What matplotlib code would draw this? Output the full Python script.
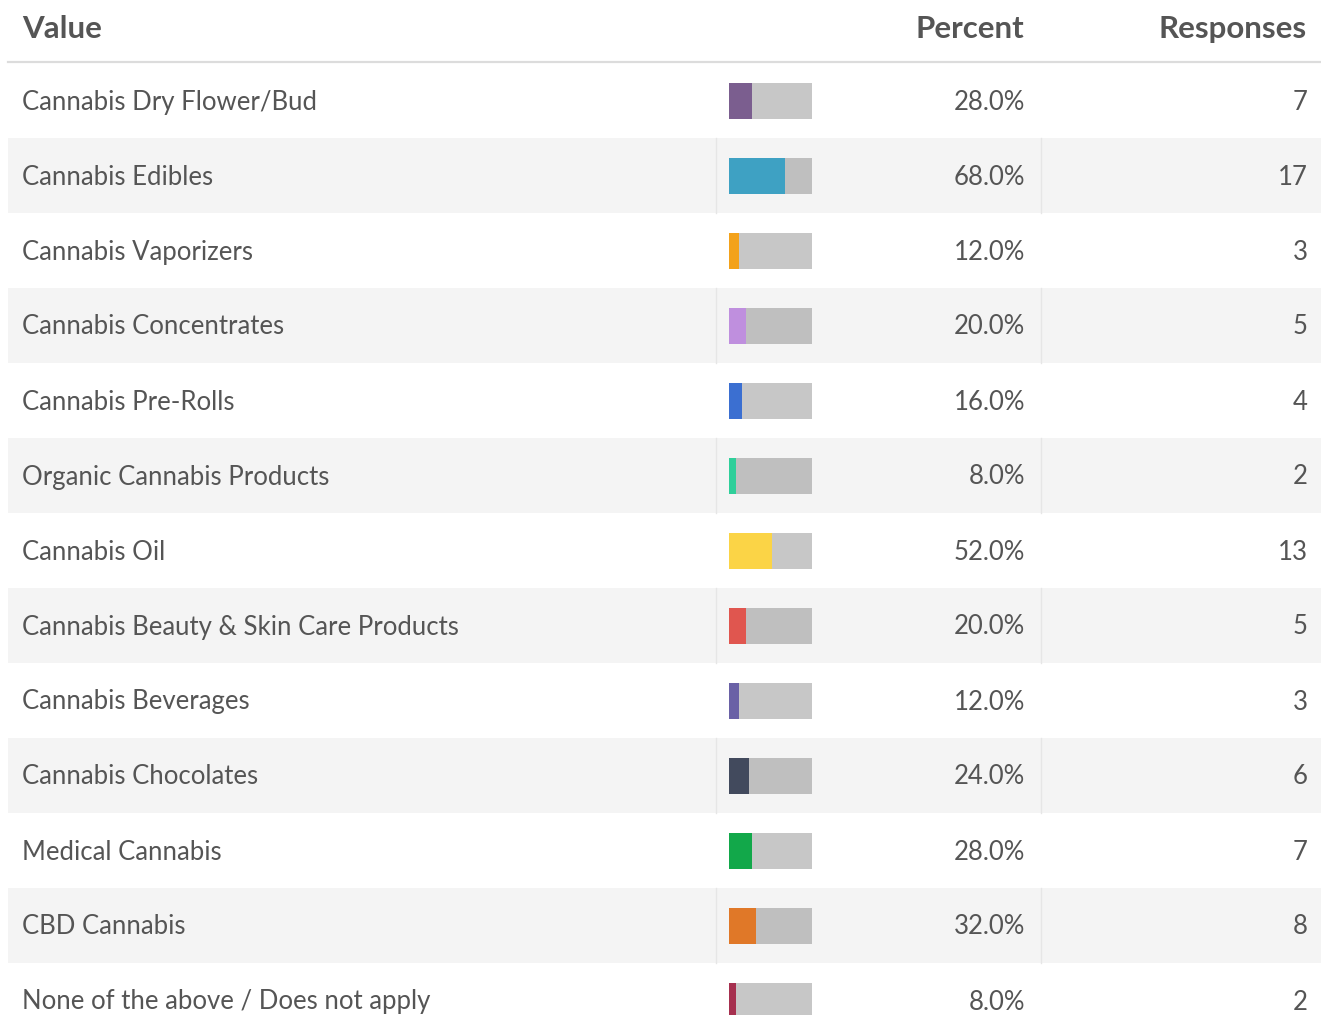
import matplotlib.pyplot as plt
from matplotlib.patches import Rectangle
import numpy as np

plt.rcParams['font.family'] = ['Lato', 'DejaVu Sans']

labels = ["Cannabis Dry Flower/Bud", "Cannabis Edibles", "Cannabis Vaporizers",
          "Cannabis Concentrates", "Cannabis Pre-Rolls", "Organic Cannabis Products",
          "Cannabis Oil", "Cannabis Beauty & Skin Care Products", "Cannabis Beverages",
          "Cannabis Chocolates", "Medical Cannabis", "CBD Cannabis",
          "None of the above / Does not apply"]
percent = [28.0, 68.0, 12.0, 20.0, 16.0, 8.0, 52.0, 20.0, 12.0, 24.0, 28.0, 32.0, 8.0]
responses = [7, 17, 3, 5, 4, 2, 13, 5, 3, 6, 7, 8, 2]
colors = ["#7b5e8f", "#3ea1c3", "#f3a21b", "#bf8fde", "#3b6fd1", "#2fcf9a",
          "#fbd446", "#e0564f", "#6a61a6", "#424a5d", "#12a84a", "#e07828", "#a6304f"]

W, H = 1321, 1015
fig = plt.figure(figsize=(W / 100, H / 100), dpi=100)
ax = fig.add_axes([0, 0, 1, 1])
ax.set_xlim(0, W)
ax.set_ylim(H, 0)
ax.axis("off")

txt = "#555555"
row_h = 75
top = 63
n = len(labels)
yc = top + row_h * np.arange(n) + row_h / 2

# striped rows + column separators
for i in range(n):
    if i % 2 == 1:
        y0 = top + row_h * i
        ax.add_patch(Rectangle((8, y0), W - 8, row_h, color="#f4f4f4", lw=0, zorder=0))
        ax.plot([715.5, 715.5], [y0, y0 + row_h], color="#e6e6e6", lw=1, zorder=1)
        ax.plot([1040.5, 1040.5], [y0, y0 + row_h], color="#e6e6e6", lw=1, zorder=1)

# header
ax.plot([8, W], [62, 62], color="#dcdcdc", lw=1.6, zorder=2)
hs = 22.5
ax.text(22, 29, "Value", ha="left", va="center", fontsize=hs, fontweight="bold", color=txt)
ax.text(1024, 29, "Percent", ha="right", va="center", fontsize=hs, fontweight="bold", color=txt)
ax.text(1307, 29, "Responses", ha="right", va="center", fontsize=hs, fontweight="bold", color=txt)

# bars
bar_x, bar_w, bar_h = 729, 83, 36
ax.barh(yc, [bar_w] * n, left=bar_x, height=bar_h, color="#333333", alpha=0.27, lw=0, zorder=3)
ax.barh(yc, np.array(percent) / 100 * bar_w, left=bar_x, height=bar_h, color=colors, lw=0, zorder=4)

fs = 18.5
for i in range(n):
    ax.text(22, yc[i] + 1.5, labels[i], ha="left", va="center", fontsize=fs, color=txt)
    ax.text(1025, yc[i] + 1.5, f"{percent[i]:.1f}%", ha="right", va="center", fontsize=fs, color=txt)
    ax.text(1308, yc[i] + 1.5, str(responses[i]), ha="right", va="center", fontsize=fs, color=txt)

fig.savefig("out.png", dpi=100)
